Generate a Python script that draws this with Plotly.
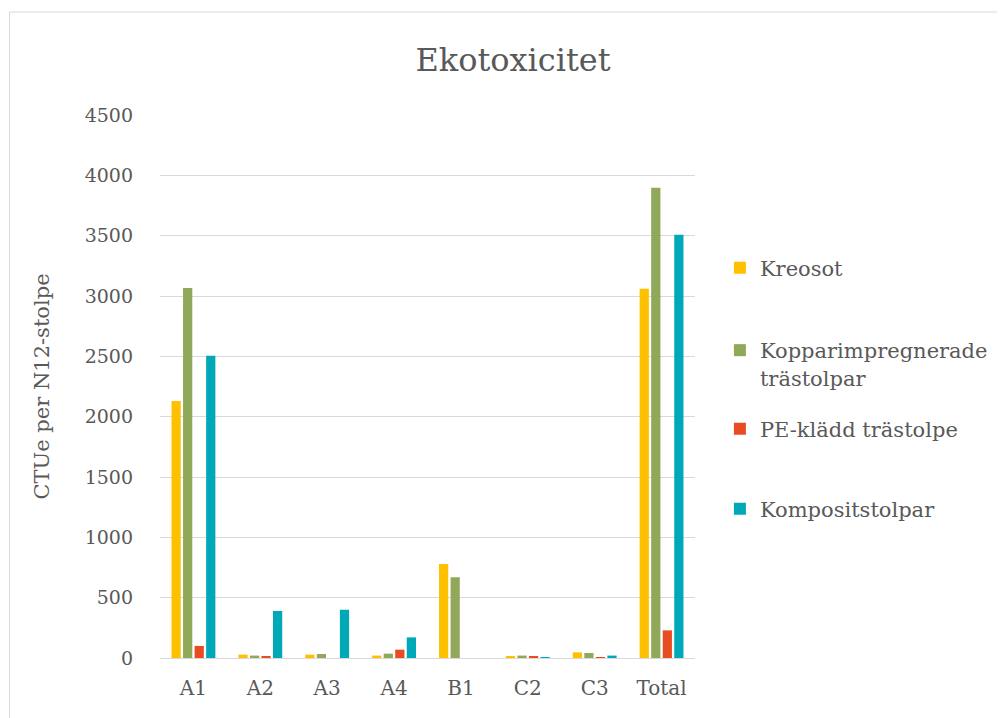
import plotly.graph_objects as go

categories = ["A1", "A2", "A3", "A4", "B1", "C2", "C3", "Total"]
kreosot = [2130, 28, 28, 20, 780, 10, 47, 3060]
koppar = [3067, 20, 33, 36, 669, 20, 41, 3898]
pe = [100, 14, 0, 69, 0, 14, 5, 229]
komposit = [2505, 390, 400, 171, 0, 2, 20, 3507]

series_names = ["Kreosot", "Kopparimpregnerade<br>trästolpar", "PE-klädd trästolpe", "Kompositstolpar"]
series_values = [kreosot, koppar, pe, komposit]
colors = ["#FFC000", "#8FA85A", "#E84C22", "#00A9B8"]

FONT = "DejaVu Serif"
TXT = "#595959"

OFF = 8  # page body margin
W, H = 1005 - OFF, 718 - OFF
L, T = 160 - OFF, 115 - OFF
R = W - (697 - OFF)
B = H - (658 - OFF)
pw, ph = W - L - R, H - T - B

def px_x(x):
    return (x - OFF - L) / pw

def px_y(y):
    return (H - B - (y - OFF)) / ph

legend_keys = ["legend", "legend2", "legend3", "legend4"]
legend_centers = [268, 364, 429, 509]

fig = go.Figure()
for name, vals, col, lk in zip(series_names, series_values, colors, legend_keys):
    fig.add_trace(go.Bar(x=categories, y=vals, name=name, marker=dict(color=col, line=dict(width=0)),
                         legend=lk))

layout_legends = {}
for lk, yc in zip(legend_keys, legend_centers):
    layout_legends[lk] = dict(x=px_x(722), y=px_y(yc), xanchor="left", yanchor="middle",
                              font=dict(family=FONT, size=21, color=TXT), valign="top",
                              bgcolor="rgba(0,0,0,0)", itemwidth=30)

fig.update_layout(
    width=W, height=H,
    margin=dict(l=L, r=R, t=T, b=B),
    paper_bgcolor="white", plot_bgcolor="white",
    barmode="group", bargap=0.31, bargroupgap=0.2,
    title=dict(text="Ekotoxicitet", x=(513 - OFF) / W, xanchor="center",
               y=1 - (60 - OFF) / H, yanchor="middle",
               font=dict(family=FONT, size=32, color=TXT)),
    showlegend=True,
    **layout_legends,
    xaxis=dict(showgrid=False, showline=True, linecolor="#D9D9D9", linewidth=1,
               ticks="", ticklabelstandoff=12, tickfont=dict(family=FONT, size=20, color=TXT)),
    yaxis=dict(range=[0, 4500], dtick=500, showgrid=True, gridcolor="#D9D9D9", gridwidth=1,
               zeroline=False, showline=False, ticks="", ticklabelstandoff=26,
               tickfont=dict(family=FONT, size=19, color=TXT),
               title=dict(text="CTUe per N12-stolpe", standoff=29,
                          font=dict(family=FONT, size=21, color=TXT))),
    shapes=[dict(type="rect", xref="paper", yref="paper",
                 x0=px_x(9), x1=px_x(1012), y0=px_y(730), y1=px_y(12),
                 line=dict(color="#D9D9D9", width=1), fillcolor="rgba(0,0,0,0)", layer="below")],
)

fig.write_html("out.html")
